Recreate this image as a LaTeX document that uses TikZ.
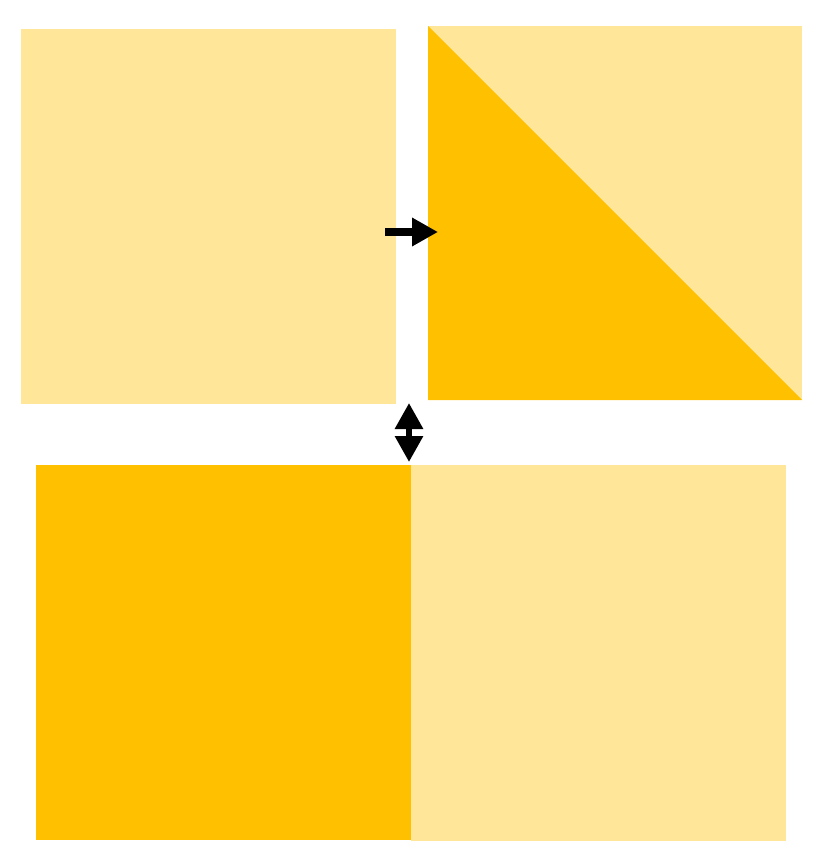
\documentclass[tikz,border=0pt]{standalone}
\usetikzlibrary{arrows.meta}
\definecolor{lightgold}{HTML}{FFE699}
\definecolor{darkgold}{HTML}{FFC000}
\tikzset{
	lightpart/.style={fill=lightgold, draw=none},
	darkpart/.style={fill=darkgold, draw=none},
	bigarrow/.style={line width=8pt, black, -{Triangle[width=27pt,length=26pt]}}
}
\begin{document}
\begin{tikzpicture}[x=1pt, y=-1pt]
		\useasboundingbox (0,0) rectangle (825,864);
		% first square
		\fill [lightpart] (21,29) rectangle (396,404);
		% second square, cut along the diagonal
		\fill [lightpart] (428,26) rectangle (802,400);
		\fill [darkpart] (428,26)--(428,400)--(802,400)--cycle;
		% third square, cut in two halves
		\fill [darkpart] (36,465) rectangle (411,840);
		\fill [lightpart] (411,465) rectangle (786,841);
		% arrows
		\coordinate (r1) at (385,232);
		\coordinate (r2) at (438,232);
		\coordinate (m) at (409,431);
		\coordinate (u) at (409,403);
		\coordinate (d) at (409,462);
		\draw [bigarrow] (r1)--(r2);
		\draw [bigarrow, line width=6pt] ([yshift=-1pt]m)--(u);
		\draw [bigarrow, line width=6pt] ([yshift=2pt]m)--(d);
	  \end{tikzpicture}
\end{document}
